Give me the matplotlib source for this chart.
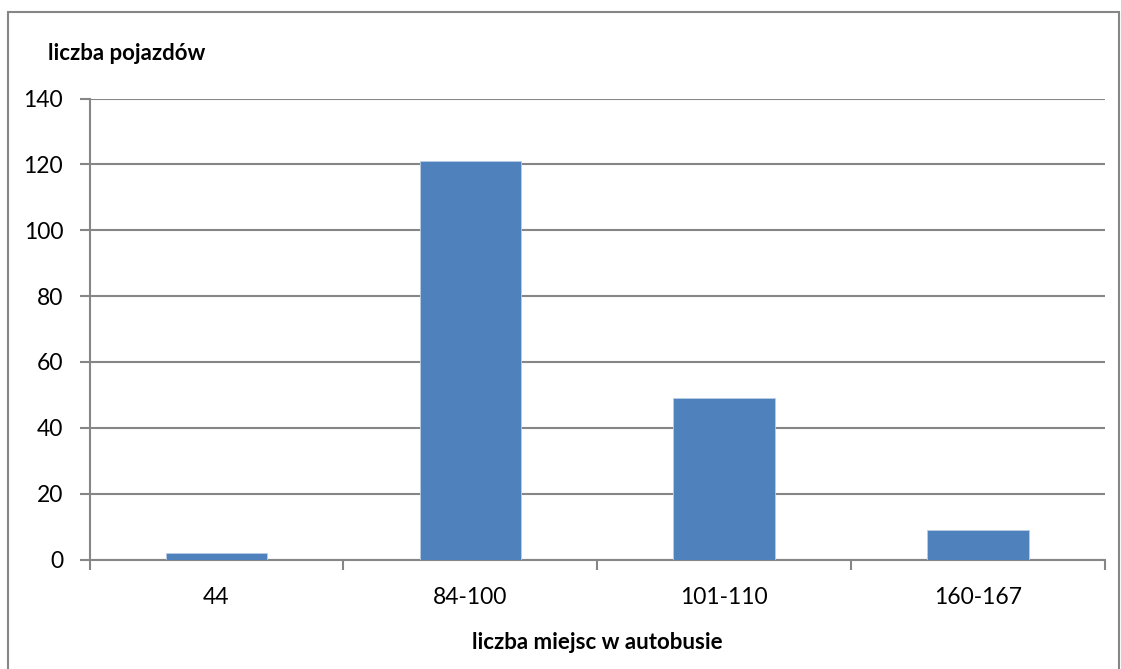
import matplotlib.pyplot as plt
import numpy as np
from matplotlib.patches import Rectangle

kategorie = ['44', '84-100', '101-110', '160-167']
liczba_pojazdow = [2, 121, 49, 9]
y_ticks = [0, 20, 40, 60, 80, 100, 120, 140]

plt.rcParams['font.family'] = ['Lato', 'DejaVu Sans']

fig = plt.figure(figsize=(11.21, 6.69), dpi=100)
W, H = 1121, 669
# plot area in pixels: x 89..1105, y 98.5..559.5
ax = fig.add_axes([89.5 / W, 1 - 559.5 / H, (1105 - 89.5) / W, (559.5 - 98.5) / H])

grey = '#868686'
x = np.arange(len(kategorie))
ax.bar(x, liczba_pojazdow, width=0.4, color='#4F81BD', edgecolor='#B9CDE5', linewidth=0.6, zorder=3)

ax.set_xlim(-0.5, len(kategorie) - 0.5)
ax.set_ylim(0, 140)
ax.set_yticks(y_ticks)
ax.set_yticklabels([str(v) for v in y_ticks], fontsize=16.5)
ax.yaxis.grid(True, color=grey, linewidth=1.5, zorder=0)
ax.set_axisbelow(True)

# category boundaries carry the ticks, labels in between
ax.set_xticks(np.arange(-0.5, len(kategorie), 1.0))
ax.set_xticklabels([])
ax.set_xticks(x, minor=True)
ax.set_xticklabels(kategorie, minor=True, fontsize=16.5)
ax.tick_params(axis='x', which='minor', length=0, pad=20)
ax.tick_params(axis='x', which='major', length=7, width=1.5, color=grey, direction='out')
ax.tick_params(axis='y', length=7, width=1.5, color=grey, direction='out', pad=12)

for s in ['top', 'right']:
    ax.spines[s].set_visible(False)
for s in ['left', 'bottom']:
    ax.spines[s].set_color(grey)
    ax.spines[s].set_linewidth(1.5)

ax.set_xlabel('liczba miejsc w autobusie', fontsize=16, fontweight='bold', labelpad=17)
fig.text(48 / W, 1 - 53 / H, 'liczba pojazdów', fontsize=16, fontweight='bold', va='center', ha='left')

# outer chart frame
fig.patches.append(Rectangle((8 / W, -0.01), (1119 - 8) / W, 1 - 12 / H + 0.01,
                             transform=fig.transFigure, fill=False, edgecolor=grey, linewidth=1.5))

fig.savefig('out.png', dpi=100, facecolor='white')
